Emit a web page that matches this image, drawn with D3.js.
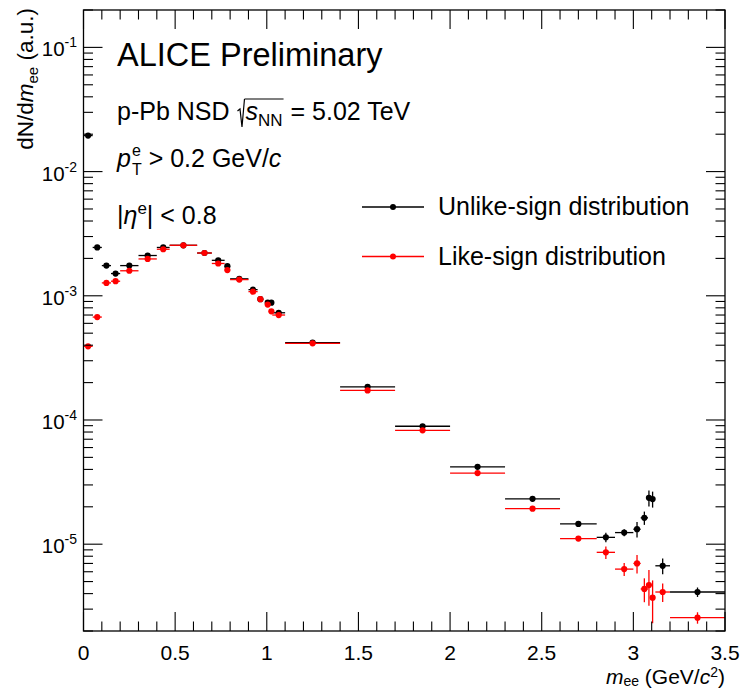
<!DOCTYPE html>
<html>
<head>
<meta charset="utf-8">
<script src="https://cdn.jsdelivr.net/npm/d3@7"></script>
<style>
  body { margin: 0; background: #fff; }
  svg { display: block; font-family: 'Liberation Sans', Arial, Helvetica, sans-serif; }
  svg text { white-space: pre; fill: #000; }
</style>
</head>
<body>
<script>
// invariant mass bins (GeV/c^2): centre and half width
const massCenters = [0.025, 0.075, 0.125, 0.175, 0.25, 0.35, 0.435, 0.545, 0.66, 0.735, 0.785, 0.85, 0.925, 0.965, 1.005, 1.025, 1.065,
  1.25, 1.55, 1.85, 2.15, 2.45, 2.70, 2.85, 2.95, 3.02, 3.06, 3.085, 3.105, 3.16, 3.35]
const massHalfWidths = [0.025, 0.025, 0.025, 0.025, 0.05, 0.05, 0.035, 0.075, 0.04, 0.035, 0.015, 0.05, 0.025, 0.015, 0.01, 0.01, 0.035,
  0.15, 0.15, 0.15, 0.15, 0.15, 0.1, 0.05, 0.05, 0.02, 0.02, 0.01, 0.01, 0.04, 0.15]

const unlikeSign = [0.0195, 0.00245, 0.00175, 0.00151, 0.00175, 0.00211, 0.00245, 0.00255, 0.00221, 0.00193, 0.00173, 0.00137, 0.00112, 0.00094, 0.00088, 0.00088, 0.00073,
  0.00042, 0.000185, 8.9e-5, 4.2e-5, 2.32e-5, 1.455e-5, 1.135e-5, 1.24e-5, 1.32e-5, 1.63e-5, 2.36e-5, 2.31e-5, 6.7e-6, 4.12e-6]
const unlikeSignErr = [0, 0, 0, 0, 0, 0, 0, 0, 0, 0, 0, 0, 0, 0, 0, 0, 0,
  0, 0, 0, 0, 0.2e-6, 0.3e-6, 1.0e-6, 0.8e-6, 1.9e-6, 2.0e-6, 3.5e-6, 3.4e-6, 0.97e-6, 0.36e-6]

const likeSign = [0.000392, 0.000674, 0.00127, 0.00131, 0.00159, 0.00198, 0.00237, 0.00255, 0.00221, 0.00182, 0.00161, 0.00135, 0.00108, 0.00094, 0.00085, 0.00075, 0.00070,
  0.000414, 0.000173, 8.25e-5, 3.74e-5, 1.93e-5, 1.11e-5, 8.6e-6, 6.3e-6, 7.0e-6, 4.36e-6, 4.69e-6, 3.71e-6, 4.12e-6, 2.56e-6]
const likeSignErr = [0, 0, 0, 0, 0, 0, 0, 0, 0, 0, 0, 0, 0, 0, 0.00002, 0.00003, 0.00003,
  0, 0, 0, 0, 0.3e-6, 0.4e-6, 1.0e-6, 0.76e-6, 1.2e-6, 0.95e-6, 1.5e-6, 1.4e-6, 0.7e-6, 0.27e-6]

const xTickLabels = ['0', '0.5', '1', '1.5', '2', '2.5', '3', '3.5']
const yTickExponents = [-5, -4, -3, -2, -1]
const legendLabels = ['Unlike-sign distribution', 'Like-sign distribution']
const seriesColors = ['#000000', '#ff0000']

const width = 742
const height = 689
const frame = { left: 83.5, right: 725, top: 10, bottom: 631 }

const x = d3.scaleLinear().domain([0, 3.5]).range([frame.left, frame.right])
const y = d3.scaleLog().domain([2e-6, 0.2]).range([frame.bottom, frame.top])

const svg = d3.select('body').append('svg')
  .attr('width', width)
  .attr('height', height)

// places pieces of text one after another; stack keeps the next piece at the same x
function runText (g, x0, y0, pieces, size) {
  let cx = x0
  let stackW = 0
  pieces.forEach(p => {
    const t = g.append('text')
      .attr('x', cx)
      .attr('y', y0 + (p.dy || 0))
      .attr('font-size', p.size || size)
      .attr('font-style', p.italic ? 'italic' : null)
      .text(p.t)
    const w = t.node().getComputedTextLength()
    if (p.stack) {
      stackW = Math.max(stackW, w)
    } else {
      cx += Math.max(w, stackW) + (p.gap || 0)
      stackW = 0
    }
  })
  return cx
}

function drawAxes (g) {
  const ax = g.append('g').attr('stroke', '#000').attr('stroke-width', 1.1)

  // x ticks, bottom and top
  const xMinor = d3.range(0, 36).map(d => d / 10)
  ax.selectAll('line.xt')
    .data(xMinor)
    .enter().append('line')
    .attr('x1', d => x(d)).attr('x2', d => x(d))
    .attr('y1', frame.bottom)
    .attr('y2', (d, i) => frame.bottom - (i % 5 === 0 ? 19 : 9.5))
  ax.selectAll('line.xtt')
    .data(xMinor)
    .enter().append('line')
    .attr('x1', d => x(d)).attr('x2', d => x(d))
    .attr('y1', frame.top)
    .attr('y2', (d, i) => frame.top + (i % 5 === 0 ? 19 : 9.5))

  // y ticks, left and right
  const yTicks = []
  d3.range(-6, 0).forEach(e => {
    d3.range(1, 10).forEach(k => {
      const v = k * Math.pow(10, e)
      if (v >= 2e-6 && v <= 0.2 + 1e-12) yTicks.push({ v, major: k === 1 })
    })
  })
  ax.selectAll('line.yl')
    .data(yTicks)
    .enter().append('line')
    .attr('y1', d => y(d.v)).attr('y2', d => y(d.v))
    .attr('x1', frame.left)
    .attr('x2', d => frame.left + (d.major ? 19 : 9.5))
  ax.selectAll('line.yr')
    .data(yTicks)
    .enter().append('line')
    .attr('y1', d => y(d.v)).attr('y2', d => y(d.v))
    .attr('x1', frame.right)
    .attr('x2', d => frame.right - (d.major ? 19 : 9.5))

  g.append('rect')
    .attr('x', frame.left).attr('y', frame.top)
    .attr('width', frame.right - frame.left)
    .attr('height', frame.bottom - frame.top)
    .attr('fill', 'none')
    .attr('stroke', '#000')
    .attr('stroke-width', 1.3)

  // tick labels
  g.selectAll('text.xl')
    .data(xTickLabels)
    .enter().append('text')
    .attr('x', d => x(+d))
    .attr('y', 659.5)
    .attr('text-anchor', 'middle')
    .attr('font-size', 21)
    .text(d => d)

  const yl = g.selectAll('text.yl')
    .data(yTickExponents)
    .enter().append('text')
    .attr('x', 77)
    .attr('y', d => y(Math.pow(10, d)) + 9)
    .attr('text-anchor', 'end')
    .attr('font-size', 20.5)
  yl.append('tspan').text('10')
  yl.append('tspan').attr('font-size', 14).attr('dy', -9).text(d => String(d))

  // axis titles
  const xt = g.append('text')
    .attr('x', frame.right)
    .attr('y', 684)
    .attr('text-anchor', 'end')
    .attr('font-size', 21)
  xt.append('tspan').attr('font-style', 'italic').text('m')
  xt.append('tspan').attr('font-size', 14).attr('dy', 1.5).text('ee')
  xt.append('tspan').attr('dy', -1.5).text(' (GeV/')
  xt.append('tspan').attr('font-style', 'italic').text('c')
  xt.append('tspan').attr('font-size', 14).attr('dy', -7).text('2')
  xt.append('tspan').attr('dy', 7).text(')')

  const yt = g.append('text')
    .attr('transform', 'translate(33,' + (frame.top - 2) + ') rotate(-90)')
    .attr('text-anchor', 'end')
    .attr('font-size', 22.5)
  yt.append('tspan').text('dN/d')
  yt.append('tspan').attr('font-style', 'italic').text('m')
  yt.append('tspan').attr('font-size', 15).attr('dy', 5).text('ee')
  yt.append('tspan').attr('dy', -5).text(' (a.u.)')
}

function drawSeries (g, values, errors, color) {
  const pts = massCenters.map((m, i) => ({ m, hw: massHalfWidths[i], v: values[i], e: errors[i] }))
  const s = g.append('g')
  s.selectAll('line.h')
    .data(pts)
    .enter().append('line')
    .attr('x1', d => x(d.m - d.hw))
    .attr('x2', d => Math.min(x(d.m + d.hw), frame.right))
    .attr('y1', d => y(d.v)).attr('y2', d => y(d.v))
    .attr('stroke', color)
    .attr('stroke-width', 1.3)
  s.selectAll('line.v')
    .data(pts.filter(d => d.e > 0))
    .enter().append('line')
    .attr('x1', d => x(d.m)).attr('x2', d => x(d.m))
    .attr('y1', d => y(d.v + d.e))
    .attr('y2', d => y(Math.max(d.v - d.e, 2e-6)))
    .attr('stroke', color)
    .attr('stroke-width', 1.3)
  s.selectAll('circle')
    .data(pts)
    .enter().append('circle')
    .attr('cx', d => x(d.m))
    .attr('cy', d => y(d.v))
    .attr('r', 3.1)
    .attr('fill', color)
}

function drawLabels (g) {
  runText(g, 117, 66, [{ t: 'ALICE Preliminary' }], 32.5)

  // p-Pb NSD sqrt(s_NN) = 5.02 TeV
  const base = 120
  let cx = runText(g, 117, base, [{ t: 'p-Pb NSD ' }], 25)
  const r0 = cx + 1
  g.append('path')
    .attr('d', 'M' + r0 + ',' + (base - 9) + 'L' + (r0 + 2.5) + ',' + (base - 11) +
      'L' + (r0 + 4.5) + ',' + (base + 7) + 'L' + (r0 + 7) + ',' + (base - 21))
    .attr('fill', 'none')
    .attr('stroke', '#000')
    .attr('stroke-width', 1.2)
  const s0 = r0 + 7
  cx = runText(g, s0 + 1, base, [{ t: 's', italic: true }, { t: 'NN', size: 17, dy: 6 }], 25)
  g.append('line')
    .attr('x1', s0).attr('x2', cx + 1)
    .attr('y1', base - 21).attr('y2', base - 21)
    .attr('stroke', '#000')
    .attr('stroke-width', 1.2)
  runText(g, cx + 1, base, [{ t: ' = 5.02 TeV' }], 25)

  // p_T^e > 0.2 GeV/c
  runText(g, 117, 167, [
    { t: 'p', italic: true, gap: 1 },
    { t: 'e', size: 16, dy: -11.5, stack: true },
    { t: 'T', size: 16, dy: 8 },
    { t: ' > 0.2 GeV/' },
    { t: 'c', italic: true }
  ], 25)

  // |eta^e| < 0.8
  runText(g, 117, 224, [
    { t: '|' },
    { t: 'η', italic: true },
    { t: 'e', size: 17, dy: -10 },
    { t: '| < 0.8' }
  ], 25)
}

function drawLegend (g) {
  const rows = legendLabels.map((label, i) => ({ label, color: seriesColors[i], yy: 207 + i * 49.5 }))
  const r = g.selectAll('g.row')
    .data(rows)
    .enter().append('g')
  r.append('line')
    .attr('x1', 362).attr('x2', 424)
    .attr('y1', d => d.yy).attr('y2', d => d.yy)
    .attr('stroke', d => d.color)
    .attr('stroke-width', 1.3)
  r.append('circle')
    .attr('cx', 393).attr('cy', d => d.yy)
    .attr('r', 3)
    .attr('fill', d => d.color)
  r.append('text')
    .attr('x', 438)
    .attr('y', d => d.yy + 8)
    .attr('font-size', 25)
    .text(d => d.label)
}

function main () {
  const plot = svg.append('g')
  drawSeries(plot, unlikeSign, unlikeSignErr, seriesColors[0])
  drawSeries(plot, likeSign, likeSignErr, seriesColors[1])
  drawAxes(svg.append('g'))
  drawLabels(svg.append('g'))
  drawLegend(svg.append('g'))
}

main()
</script>
</body>
</html>
